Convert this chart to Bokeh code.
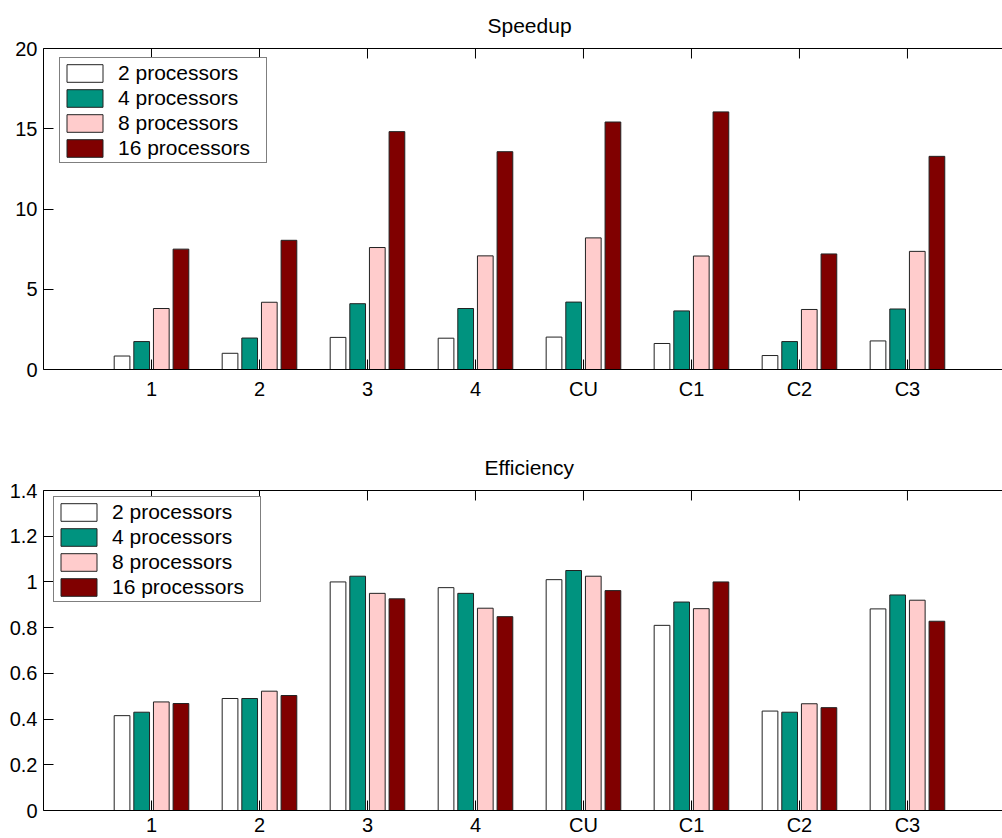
from bokeh.plotting import figure
from bokeh.models import (Range1d, FixedTicker, LinearAxis, Legend, LegendItem,
                          ColumnDataSource)
from bokeh.layouts import column
from bokeh.transform import dodge
from bokeh.embed import file_html
from bokeh.resources import INLINE

# ---------------- data ----------------
categories = ["1", "2", "3", "4", "CU", "C1", "C2", "C3"]
series_names = ["2 processors", "4 processors", "8 processors", "16 processors"]

speedup_2 = [0.84, 1.01, 2.00, 1.95, 2.02, 1.62, 0.87, 1.78]
speedup_4 = [1.74, 1.96, 4.10, 3.80, 4.20, 3.65, 1.74, 3.77]
speedup_8 = [3.80, 4.19, 7.60, 7.08, 8.20, 7.07, 3.74, 7.36]
speedup_16 = [7.50, 8.05, 14.82, 13.57, 15.42, 16.05, 7.20, 13.28]

eff_2 = [0.415, 0.490, 1.000, 0.975, 1.010, 0.810, 0.435, 0.882]
eff_4 = [0.430, 0.490, 1.025, 0.950, 1.050, 0.912, 0.430, 0.943]
eff_8 = [0.475, 0.522, 0.950, 0.885, 1.025, 0.883, 0.467, 0.920]
eff_16 = [0.468, 0.503, 0.926, 0.848, 0.962, 1.000, 0.450, 0.828]

speedup_ticks = [0, 5, 10, 15, 20]
speedup_tick_labels = ["0", "5", "10", "15", "20"]
eff_ticks = [0, 0.2, 0.4, 0.6, 0.8, 1.0, 1.2, 1.4]
eff_tick_labels = ["0", "0.2", "0.4", "0.6", "0.8", "1", "1.2", "1.4"]

colors = ["#FFFFFF", "#00937F", "#FFCCCC", "#800000"]

FONT = "Liberation Sans"
N = len(series_names)
group_width = min(0.8, N / (N + 1.5))
step = group_width / N
offsets = [(i - (N - 1) / 2) * step for i in range(N)]
bar_w = step * 0.8


def make_fig(title, title_offset, series, y_end, yticks, ylabels, height,
             b_top, b_bottom, legend_xy, label_standoff):
    xs = list(range(1, len(categories) + 1))
    data = {"x": xs, "ytop": [y_end] * len(xs)}
    for i, s in enumerate(series):
        data["s%d" % i] = s
    src = ColumnDataSource(data)

    p = figure(width=1002, height=height, x_range=Range1d(0, 8.88),
               y_range=Range1d(0, y_end), output_backend="svg",
               toolbar_location=None, min_border_left=43, min_border_right=0,
               min_border_top=b_top, min_border_bottom=b_bottom,
               background_fill_color="white", border_fill_color="white")
    p.outline_line_color = None
    p.xgrid.visible = False
    p.ygrid.visible = False

    p.title.text = title
    p.title.align = "left"
    p.title.offset = title_offset
    p.title.standoff = 23
    p.title.text_font = FONT
    p.title.text_font_size = "21px"
    p.title.text_font_style = "normal"
    p.title.text_color = "black"

    renderers = []
    for i in range(N):
        r = p.vbar(x=dodge("x", offsets[i]), top="s%d" % i, width=bar_w,
                   bottom=0, source=src, fill_color=colors[i],
                   line_color="#222222", line_width=1)
        renderers.append(r)

    # inward tick marks along the top edge of the box
    p.ray(x="x", y="ytop", length=10, length_units="screen", angle=-90,
          angle_units="deg", line_color="black", line_width=1, source=src)

    # axes
    for ax in (p.xaxis[0], p.yaxis[0]):
        ax.axis_line_color = "black"
        ax.axis_line_width = 1
        ax.major_tick_line_color = "black"
        ax.major_tick_in = 10
        ax.major_tick_out = 0
        ax.minor_tick_line_color = None
        ax.major_label_text_font = FONT
        ax.major_label_text_font_size = "20px"
        ax.major_label_text_color = "black"
    p.xaxis[0].ticker = FixedTicker(ticks=xs)
    p.xaxis[0].major_label_overrides = {x: c for x, c in zip(xs, categories)}
    p.xaxis[0].major_label_standoff = label_standoff
    p.yaxis[0].ticker = FixedTicker(ticks=yticks)
    p.yaxis[0].major_label_overrides = {t: l for t, l in zip(yticks, ylabels)}
    p.yaxis[0].major_label_standoff = 6

    top_ax = LinearAxis(ticker=FixedTicker(ticks=[]), axis_line_color="black",
                        major_tick_in=0, major_tick_out=0,
                        minor_tick_line_color=None, major_label_standoff=0)
    p.add_layout(top_ax, "above")

    items = [LegendItem(label=series_names[i], renderers=[renderers[i]])
             for i in range(N)]
    legend = Legend(items=items, location=legend_xy, padding=2, spacing=0,
                    label_height=25, glyph_height=22, glyph_width=45,
                    label_standoff=11, label_width=146,
                    label_text_font=FONT, label_text_font_size="21px",
                    label_text_color="black",
                    border_line_color="black", border_line_width=1,
                    background_fill_color="white", background_fill_alpha=1,
                    margin=0)
    p.add_layout(legend)
    return p


p1 = make_fig("Speedup", 444, [speedup_2, speedup_4, speedup_8, speedup_16], 20,
              speedup_ticks, speedup_tick_labels, 408, 47, 39, (16, 206), 8)
p2 = make_fig("Efficiency", 441, [eff_2, eff_4, eff_8, eff_16], 1.4,
              eff_ticks, eff_tick_labels, 430, 82, 26, (10, 208), 3)

layout = column(p1, p2, spacing=0)
open("out.html", "w").write(file_html(layout, INLINE))
